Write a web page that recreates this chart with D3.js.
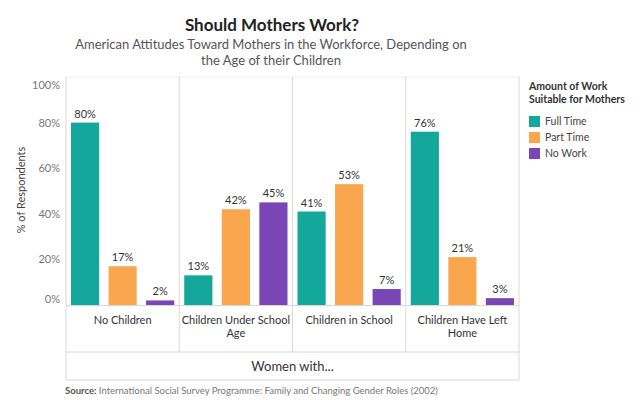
<!DOCTYPE html>
<html><head><meta charset="utf-8">
<script src="https://cdn.jsdelivr.net/npm/d3@7"></script>
<style>body{margin:0;background:#fff;} text{font-family:Lato,"Open Sans",sans-serif;}</style>
</head><body>
<svg id="c" width="640" height="400"></svg>
<script>
const categories = ["No Children", "Children Under School Age", "Children in School", "Children Have Left Home"];
const categoryLines = [["No Children"], ["Children Under School", "Age"], ["Children in School"], ["Children Have Left", "Home"]];
const seriesNames = ["Full Time", "Part Time", "No Work"];
const fullTime = [0.80, 0.13, 0.41, 0.76];
const partTime = [0.17, 0.42, 0.53, 0.21];
const noWork = [0.02, 0.45, 0.07, 0.03];
const yTicks = [0, 0.2, 0.4, 0.6, 0.8, 1.0];
const colors = ["#14a79c", "#f9a64f", "#7a45b5"];

const svg = d3.select("#c");
const L = 66, R = 519, T = 77, B = 305;
const x0 = d3.scaleBand().domain(categories).range([L, R]);
const x1 = d3.scaleBand().domain(seriesNames).range([5, x0.bandwidth() - 5]).paddingInner(0.25);
const y = d3.scaleLinear().domain([0, 1]).range([B, T]);
const series = [fullTime, partTime, noWork];

// title
svg.append("text").attr("x", 272).attr("y", 31).attr("text-anchor", "middle")
  .attr("font-size", 17).attr("font-weight", 700).attr("fill", "#222").text("Should Mothers Work?");
svg.append("text").attr("x", 271).attr("y", 49).attr("text-anchor", "middle")
  .attr("font-size", 13).attr("fill", "#555").text("American Attitudes Toward Mothers in the Workforce, Depending on");
svg.append("text").attr("x", 271).attr("y", 65).attr("text-anchor", "middle")
  .attr("font-size", 13).attr("fill", "#555").text("the Age of their Children");

const grid = "#d8d8d8";
// plot frame
svg.append("line").attr("x1", L).attr("x2", R).attr("y1", T).attr("y2", T).attr("stroke", "#eee");
svg.append("line").attr("x1", L).attr("x2", L).attr("y1", T).attr("y2", 380).attr("stroke", grid);
svg.append("line").attr("x1", R).attr("x2", R).attr("y1", T).attr("y2", 380).attr("stroke", grid);
categories.slice(1).forEach(c => {
  svg.append("line").attr("x1", x0(c)).attr("x2", x0(c)).attr("y1", T).attr("y2", 352).attr("stroke", grid);
});
svg.append("line").attr("x1", L).attr("x2", R).attr("y1", B + 0.5).attr("y2", B + 0.5).attr("stroke", grid);
svg.append("line").attr("x1", L).attr("x2", R).attr("y1", 352).attr("y2", 352).attr("stroke", grid);
svg.append("line").attr("x1", L).attr("x2", R).attr("y1", 380).attr("y2", 380).attr("stroke", grid);

// y axis labels
yTicks.forEach(t => {
  let yy = y(t) + 4;
  if (t === 0) yy = y(t) - 2;
  if (t === 1) yy = y(t) + 12;
  svg.append("text").attr("x", 60).attr("y", yy).attr("text-anchor", "end")
    .attr("font-size", 11).attr("fill", "#777").text(d3.format(".0%")(t));
});
svg.append("text").attr("transform", "translate(25,190) rotate(-90)").attr("text-anchor", "middle")
  .attr("font-size", 11).attr("fill", "#444").text("% of Respondents");

// bars
categories.forEach((c, i) => {
  const g = svg.append("g").attr("transform", `translate(${x0(c)},0)`);
  seriesNames.forEach((s, j) => {
    const v = series[j][i];
    g.append("rect").attr("x", x1(s)).attr("width", x1.bandwidth())
      .attr("y", y(v)).attr("height", B - y(v)).attr("fill", colors[j]);
    g.append("text").attr("x", x1(s) + x1.bandwidth() / 2).attr("y", y(v) - 5)
      .attr("text-anchor", "middle").attr("font-size", 11).attr("fill", "#333")
      .text(d3.format(".0%")(v));
  });
  categoryLines[i].forEach((ln, k) => {
    svg.append("text").attr("x", x0(c) + x0.bandwidth() / 2).attr("y", 324 + k * 13)
      .attr("text-anchor", "middle").attr("font-size", 11).attr("fill", "#333").text(ln);
  });
});

svg.append("text").attr("x", (L + R) / 2).attr("y", 371).attr("text-anchor", "middle")
  .attr("font-size", 13).attr("fill", "#333").text("Women with...");

// legend
svg.append("text").attr("x", 529).attr("y", 90).attr("font-size", 10.5).attr("font-weight", 700)
  .attr("fill", "#333").text("Amount of Work");
svg.append("text").attr("x", 529).attr("y", 103).attr("font-size", 10.5).attr("font-weight", 700)
  .attr("fill", "#333").text("Suitable for Mothers");
seriesNames.forEach((s, j) => {
  svg.append("rect").attr("x", 529).attr("y", 116 + j * 16).attr("width", 11).attr("height", 11).attr("fill", colors[j]);
  svg.append("text").attr("x", 545).attr("y", 125 + j * 16).attr("font-size", 10.5).attr("fill", "#444").text(s);
});

// source
const src = svg.append("text").attr("x", 65).attr("y", 394).attr("font-size", 9.5).attr("fill", "#777");
src.append("tspan").attr("font-weight", 700).attr("fill", "#555").text("Source:");
src.append("tspan").text(" International Social Survey Programme: Family and Changing Gender Roles (2002)");
</script>
</body></html>
